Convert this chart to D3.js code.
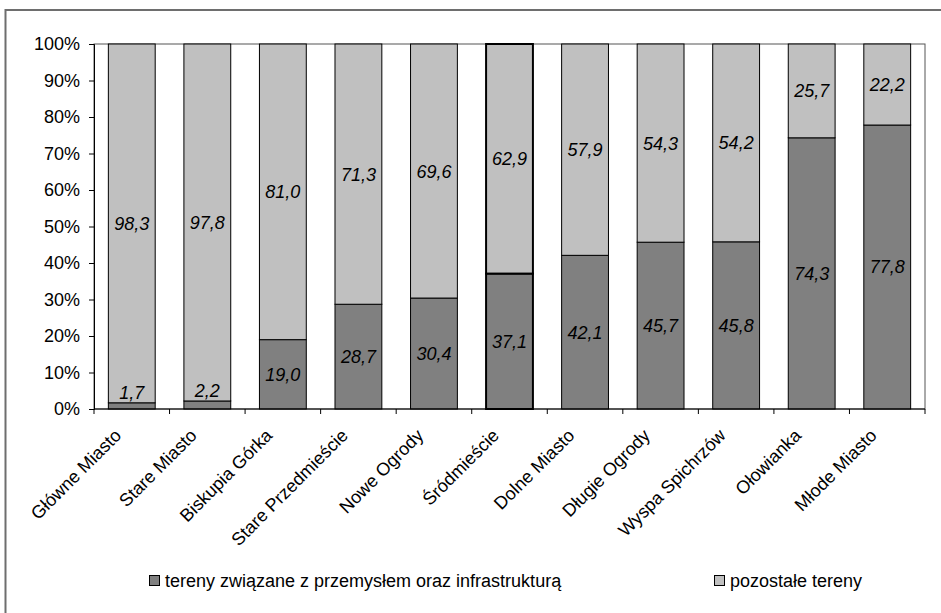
<!DOCTYPE html>
<html><head><meta charset="utf-8">
<script src="https://cdn.jsdelivr.net/npm/d3@7"></script>
<style>body{margin:0;background:#fff}svg{display:block;font-family:"Liberation Sans",Arial,sans-serif}</style>
</head><body><svg id="c" width="941" height="613"></svg>
<script>
const categories = ["Główne Miasto","Stare Miasto","Biskupia Górka","Stare Przedmieście","Nowe Ogrody","Śródmieście","Dolne Miasto","Długie Ogrody","Wyspa Spichrzów","Ołowianka","Młode Miasto"];
const industrial = [1.7,2.2,19.0,28.7,30.4,37.1,42.1,45.7,45.8,74.3,77.8];
const other = [98.3,97.8,81.0,71.3,69.6,62.9,57.9,54.3,54.2,25.7,22.2];
const seriesNames = ["tereny związane z przemysłem oraz infrastrukturą","pozostałe tereny"];
const yTicks = [0,10,20,30,40,50,60,70,80,90,100];
const highlighted = "Śródmieście";

const svg = d3.select("#c");
const L=94,R=925,T=44,B=409;
const FS=18;
const colors = ["#808080","#c0c0c0"];

// outer frame
svg.append("rect").attr("x",5.5).attr("y",10).attr("width",960).attr("height",620)
  .attr("fill","none").attr("stroke","#6e6e6e").attr("stroke-width",2);

const x = d3.scaleBand().domain(categories).range([L,R]).paddingInner(0.38).paddingOuter(0.19);
const y = d3.scaleLinear().domain([0,100]).range([B,T]);

// plot border
svg.append("rect").attr("x",L).attr("y",T).attr("width",R-L).attr("height",B-T)
  .attr("fill","none").attr("stroke","#555").attr("stroke-width",1);

const data = categories.map((c,i)=>({c, a:industrial[i], b:other[i]}));
const stack = d3.stack().keys(["a","b"])(data);

stack.forEach((s,si)=>{
  svg.append("g").selectAll("rect").data(s).join("rect")
    .attr("x",d=>x(d.data.c)).attr("width",x.bandwidth())
    .attr("y",d=>y(d[1])).attr("height",d=>y(d[0])-y(d[1]))
    .attr("fill",colors[si]).attr("stroke","#000")
    .attr("stroke-width",d=>d.data.c===highlighted?2:1);
});
// labels
stack.forEach((s,si)=>{
  svg.append("g").selectAll("text").data(s).join("text")
    .attr("x",d=>x(d.data.c)+x.bandwidth()/2)
    .attr("y",d=>{const h=y(d[0])-y(d[1]); const mid=(y(d[0])+y(d[1]))/2; return h<20? y(d[1])-10: mid;})
    .attr("dy","0.36em").attr("text-anchor","middle")
    .attr("font-size",FS).attr("font-style","italic").attr("fill","#000")
    .text(d=>(d[1]-d[0]).toFixed(1).replace(".",","));
});

// y axis
const ya = svg.append("g").attr("transform",`translate(${L},0)`)
  .call(d3.axisLeft(y).tickValues(yTicks).tickSize(5).tickPadding(9).tickFormat(d=>d+"%"));
ya.select(".domain").attr("stroke","#000");
ya.selectAll("text").attr("font-size",FS).attr("fill","#000").attr("font-family","Liberation Sans, Arial, sans-serif");

// x axis ticks at band boundaries
const bounds = d3.range(categories.length+1).map(i=>L+i*x.step());
svg.append("line").attr("x1",L).attr("x2",R).attr("y1",B).attr("y2",B).attr("stroke","#000");
svg.append("g").selectAll("line").data(bounds).join("line")
  .attr("x1",d=>d).attr("x2",d=>d).attr("y1",B).attr("y2",B+5).attr("stroke","#000");
svg.append("g").selectAll("text").data(categories).join("text")
  .attr("transform",d=>`translate(${x(d)+x.bandwidth()/2-14},${B+23}) rotate(-45)`)
  .attr("text-anchor","end").attr("dy","0.36em").attr("font-size",FS).attr("fill","#000")
  .text(d=>d);

// legend
const lg = [{x:149,t:seriesNames[0],c:colors[0]},{x:714,t:seriesNames[1],c:colors[1]}];
lg.forEach(l=>{
  svg.append("rect").attr("x",l.x+0.5).attr("y",575.5).attr("width",10).attr("height",10)
    .attr("fill",l.c).attr("stroke","#000");
  svg.append("text").attr("x",l.x+16).attr("y",581).attr("dy","0.36em").attr("font-size",FS).attr("fill","#000").text(l.t);
});
</script></body></html>
